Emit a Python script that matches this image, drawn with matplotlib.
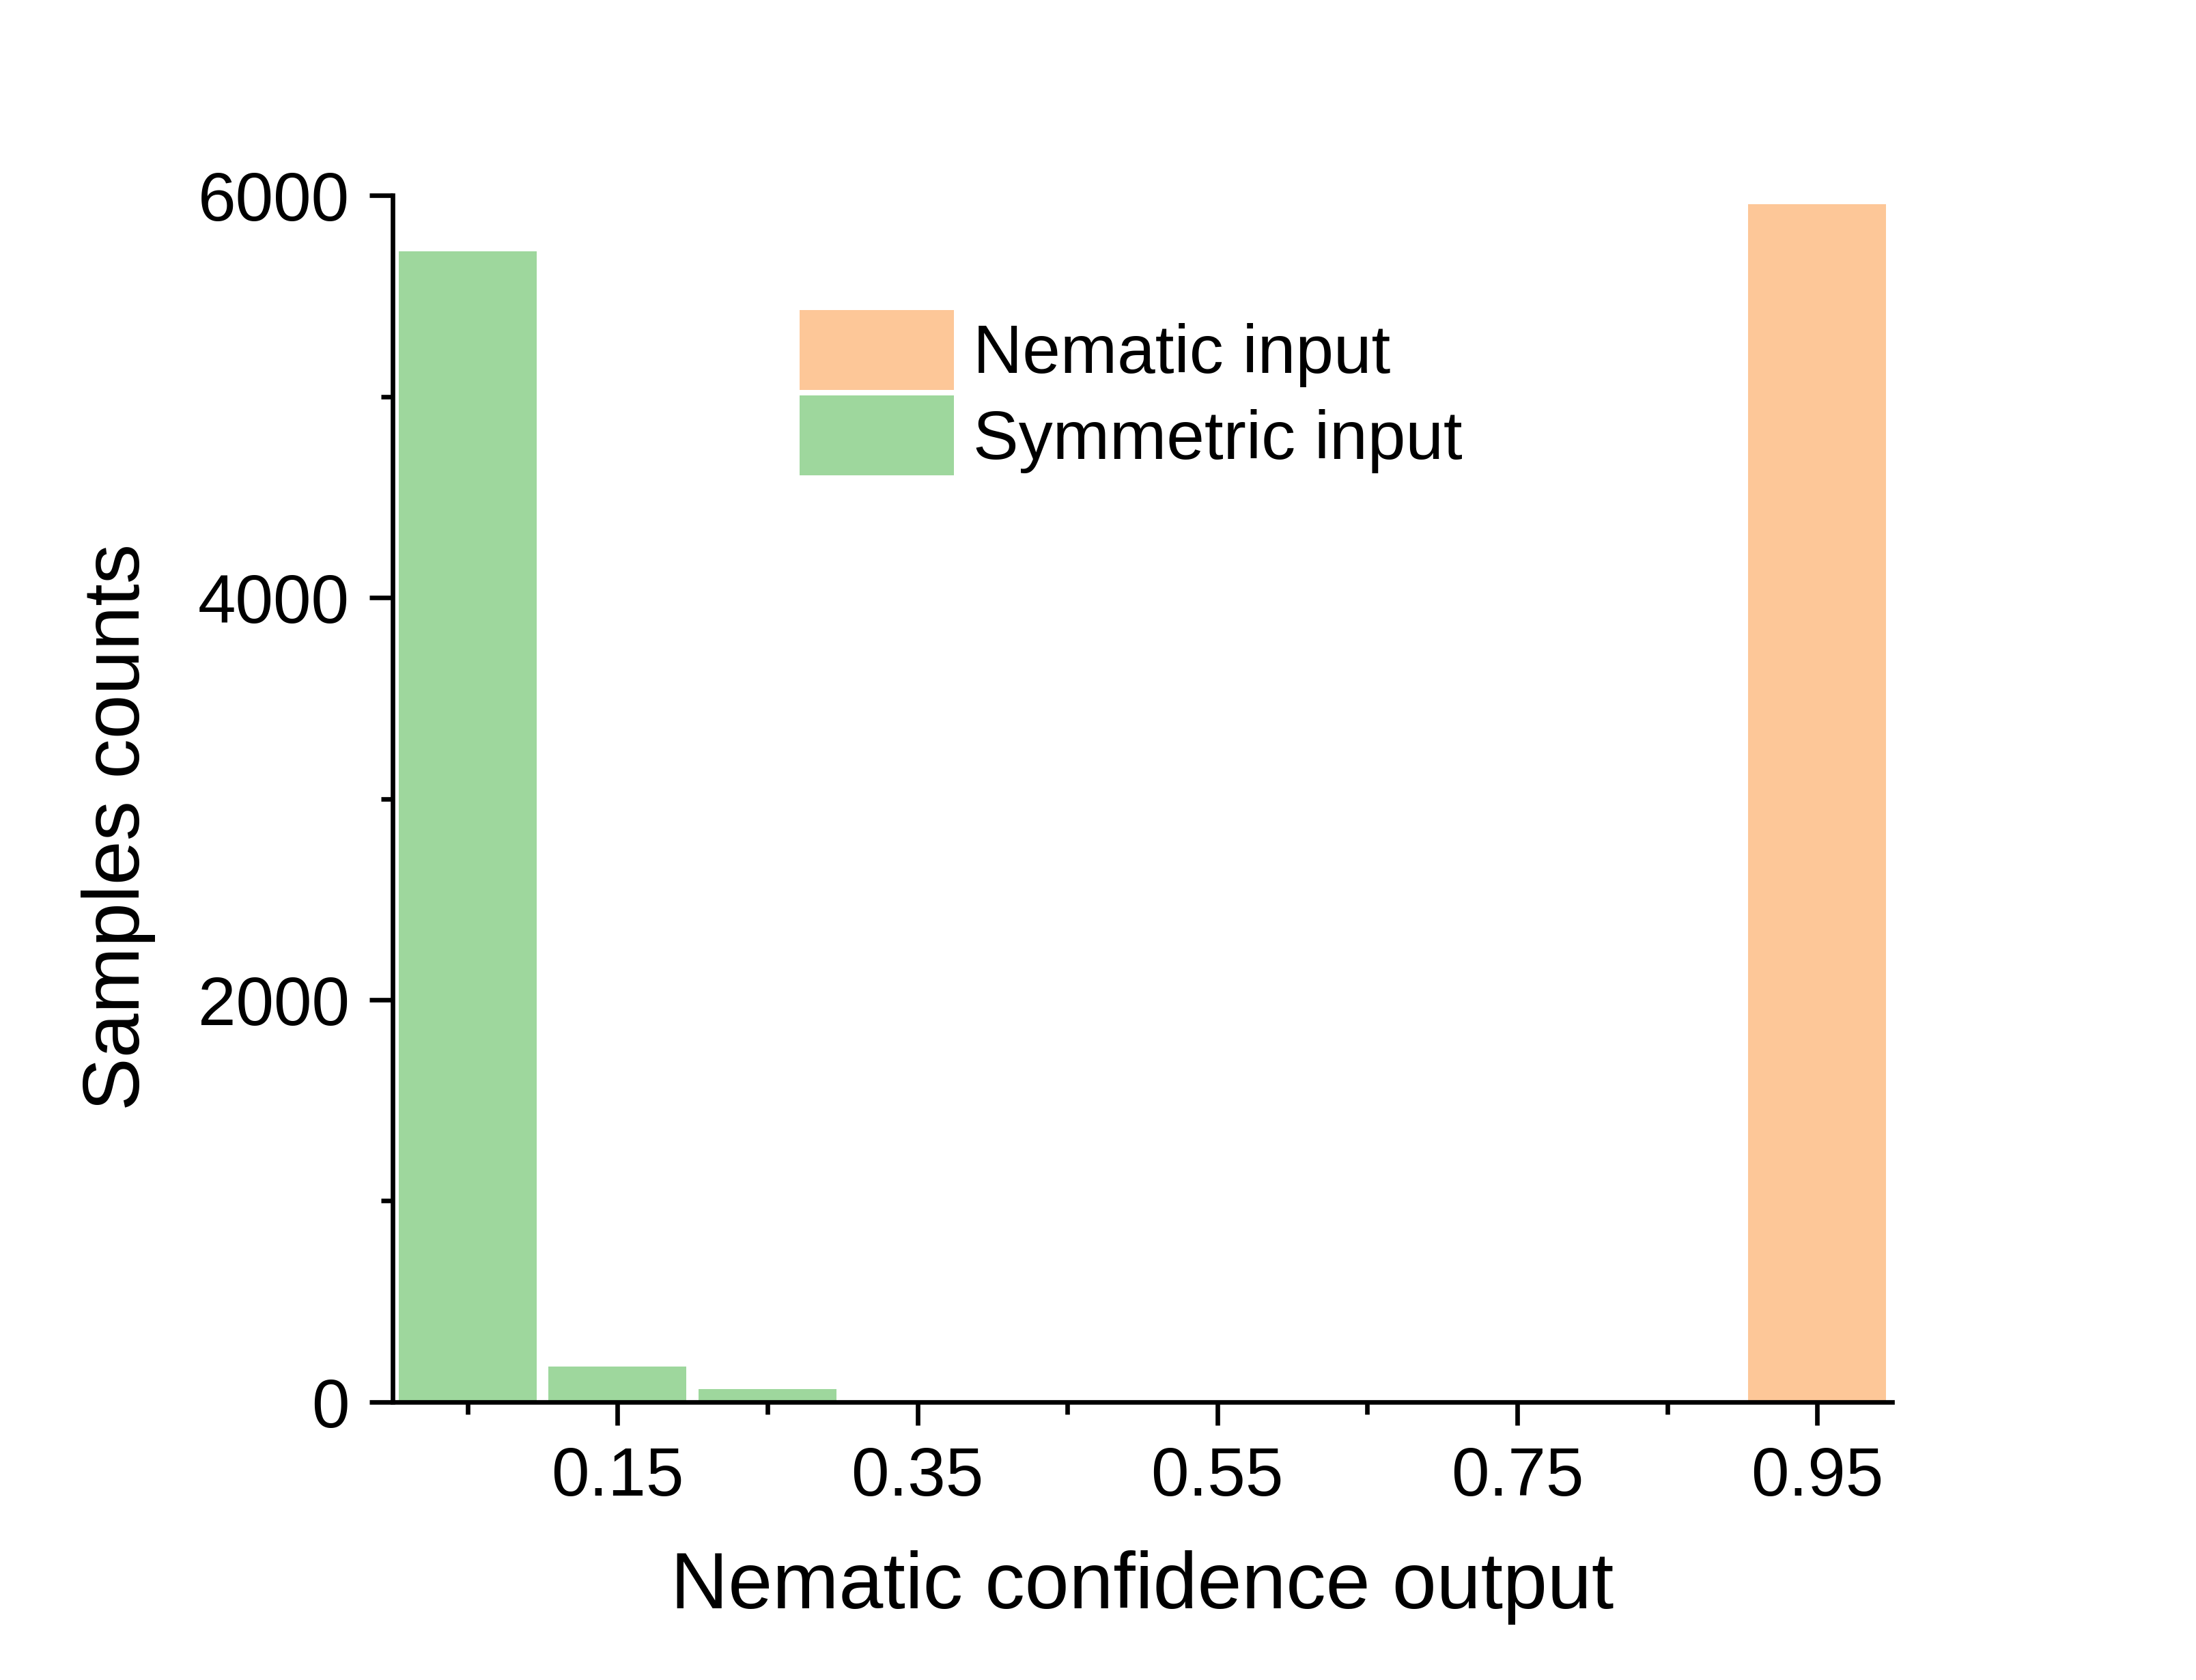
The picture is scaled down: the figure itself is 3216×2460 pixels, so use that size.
import matplotlib
matplotlib.use("Agg")
import matplotlib.pyplot as plt
from matplotlib.ticker import FixedLocator

plt.rcParams['font.family'] = ['Liberation Sans', 'DejaVu Sans']

# Data
bin_centers = [0.05, 0.15, 0.25, 0.35, 0.45, 0.55, 0.65, 0.75, 0.85, 0.95]
nematic_counts = [0, 0, 0, 0, 0, 0, 0, 0, 0, 5956]
symmetric_counts = [5721, 175, 65, 8, 0, 0, 0, 0, 0, 0]
series_labels = ["Nematic input", "Symmetric input"]
xtick_major = [0.15, 0.35, 0.55, 0.75, 0.95]
xtick_labels = ["0.15", "0.35", "0.55", "0.75", "0.95"]
xtick_minor = [0.05, 0.25, 0.45, 0.65, 0.85]
ytick_major = [0, 2000, 4000, 6000]
ytick_minor = [1000, 3000, 5000]

orange = "#FDC798"
green = "#9ED79D"

fig = plt.figure(figsize=(10.72, 8.203), dpi=300)
ax = fig.add_axes([0.1788, 0.1654, 0.6828, 0.718])

b1 = ax.bar(bin_centers, nematic_counts, width=0.092, color=orange,
            edgecolor='none', label=series_labels[0])
b2 = ax.bar(bin_centers, symmetric_counts, width=0.092, color=green,
            edgecolor='none', label=series_labels[1])

ax.set_xlim(0, 1.0)
ax.set_ylim(0, 6000)

ax.xaxis.set_major_locator(FixedLocator(xtick_major))
ax.set_xticklabels(xtick_labels)
ax.xaxis.set_minor_locator(FixedLocator(xtick_minor))
ax.yaxis.set_major_locator(FixedLocator(ytick_major))
ax.yaxis.set_minor_locator(FixedLocator(ytick_minor))

for s in ['top', 'right']:
    ax.spines[s].set_visible(False)
for s in ['left', 'bottom']:
    ax.spines[s].set_linewidth(1.6)

ax.tick_params(axis='both', which='major', length=8.2, width=1.6,
               labelsize=24, direction='out')
ax.tick_params(axis='both', which='minor', length=4.2, width=1.6,
               direction='out')
ax.tick_params(axis='x', which='major', pad=7)
ax.tick_params(axis='y', which='major', pad=7)

ax.set_xlabel("Nematic confidence output", fontsize=28, labelpad=14)
ax.set_ylabel("Samples counts", fontsize=28)
ax.yaxis.set_label_coords(-0.158, 0.477)

ax.legend(handles=[b1, b2], labels=series_labels, loc='upper left',
          bbox_to_anchor=(0.2714, 0.905), frameon=False, fontsize=24,
          handlelength=2.26, handleheight=1.423, handletextpad=0.28,
          labelspacing=0.083, borderpad=0, borderaxespad=0)

fig.savefig("out.png", dpi=300, facecolor='white')
